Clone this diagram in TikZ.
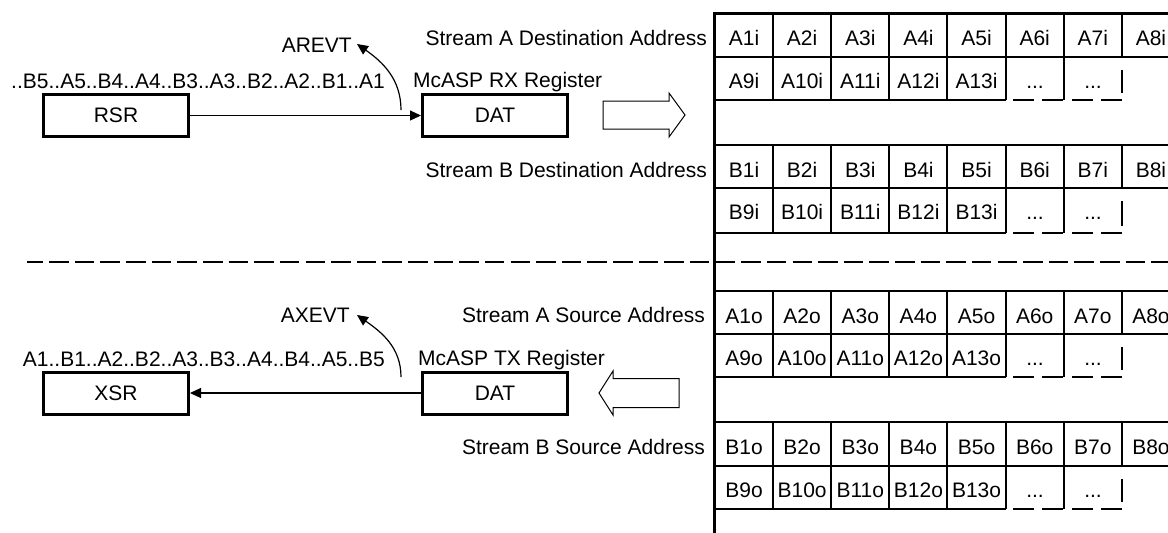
\documentclass[tikz,border=0pt]{standalone}
\usepackage{fontspec}
\setmainfont{Liberation Sans}
\usetikzlibrary{arrows.meta}
\begin{document}
\begin{tikzpicture}[x=1pt,y=-1pt,
  txt/.style={inner sep=0pt, font=\fontsize{21}{25}\selectfont},
  reg/.style={draw, line width=3pt, minimum width=145pt, minimum height=42pt, inner sep=0pt, font=\fontsize{21}{25}\selectfont},
  conn/.style={line width=1.2pt, -{Triangle[length=11pt,width=10pt]}},
  cell/.style={line width=1.2pt},
  dcell/.style={line width=1.2pt, dash pattern=on 21pt off 8.5pt},
  mem/.style={line width=3pt, line join=miter},
  sepline/.style={line width=1.3pt, dash pattern=on 19.5pt off 6.13pt, dash phase=3.4pt},
  blk/.style={line width=1pt, line join=miter}
]
\clip (0,0) rectangle (1168,533);

% ---------- receive side ----------
\node[reg] (RSR) at (116,115.5) {RSR};
\node[reg] (DATr) at (495,115.5) {DAT};
\node[txt, anchor=base east] (seqin) at (385,88) {..B5..A5..B4..A4..B3..A3..B2..A2..B1..A1};
\node[txt, anchor=base east] (arevt) at (352,52) {AREVT};
\node[txt, anchor=base west] (rxlbl) at (413,87) {McASP RX Register};
\draw[conn] (RSR.east) -- (DATr.west);
\coordinate (arcAs) at (401,110);
\coordinate (arcAe) at (357,44);
\draw[conn] (arcAs) to[out=90,in=-35] (arcAe);
\draw[blk] (603,101) -- (669,101) -- (669,93) -- (685,115) -- (669,137) -- (669,129) -- (603,129) -- cycle;

% ---------- transmit side ----------
\node[reg] (XSR) at (116,393) {XSR};
\node[reg] (DATx) at (495,393) {DAT};
\node[txt, anchor=base east] (seqout) at (385,366) {A1..B1..A2..B2..A3..B3..A4..B4..A5..B5};
\node[txt, anchor=base east] (axevt) at (350,322) {AXEVT};
\node[txt, anchor=base west] (txlbl) at (418,365) {McASP TX Register};
\draw[conn] (DATx.west) -- (XSR.east);
\coordinate (arcXs) at (401,377);
\coordinate (arcXe) at (357,315);
\draw[conn] (arcXs) to[out=90,in=-35] (arcXe);
\draw[blk] (679,378.5) -- (613,378.5) -- (613,371) -- (599,393) -- (613,415) -- (613,407.5) -- (679,407.5) -- cycle;

% ---------- address labels ----------
\node[txt, anchor=base east] (sad) at (707,45) {Stream A Destination Address};
\node[txt, anchor=base east] (sbd) at (707,177) {Stream B Destination Address};
\node[txt, anchor=base east] (sas) at (705,322) {Stream A Source Address};
\node[txt, anchor=base east] (sbs) at (705,454) {Stream B Source Address};

% ---------- separator ----------
\coordinate (sepL) at (27,262);
\coordinate (sepR) at (1168,262);
\draw[sepline] (sepL) -- (sepR);

% ---------- memory grid ----------
\foreach \t/\m/\b/\L/\s in {13/57/100/A/i, 145/188/233/B/i, 291/334/377/A/o, 422/466/509/B/o} {
  \draw[cell] (716,\t) -- (1168,\t);
  \draw[cell] (716,\m) -- (1168,\m);
  \draw[cell] (716,\b) -- (1006,\b);
  \draw[dcell] (1122,\b) -- (1006,\b);
  \foreach \x in {773,831,889,947,1006,1064,1122} \draw[cell] (\x,\t) -- (\x,\m);
  \foreach \x in {773,831,889,947,1006,1064} \draw[cell] (\x,\m) -- (\x,\b);
  \draw[cell] (1122,\m+13) -- (1122,\b-7);
  \foreach \n in {1,...,8}
    \node[txt, anchor=base] (cell\L\n\s) at ({744+58.14*(\n-1)},\t+32) {\L\n\s};
  \foreach \n in {9,...,13}
    \node[txt, anchor=base] (cell\L\n\s) at ({744+58.14*(\n-9)},\m+31) {\L\n\s};
  \node[txt, anchor=base] (dots\L\s a) at (1035,\m+31) {...};
  \node[txt, anchor=base] (dots\L\s b) at (1093,\m+31) {...};
}
\draw[mem] (714.5,533) -- (714.5,13.5) -- (1168,13.5);
\end{tikzpicture}
\end{document}
